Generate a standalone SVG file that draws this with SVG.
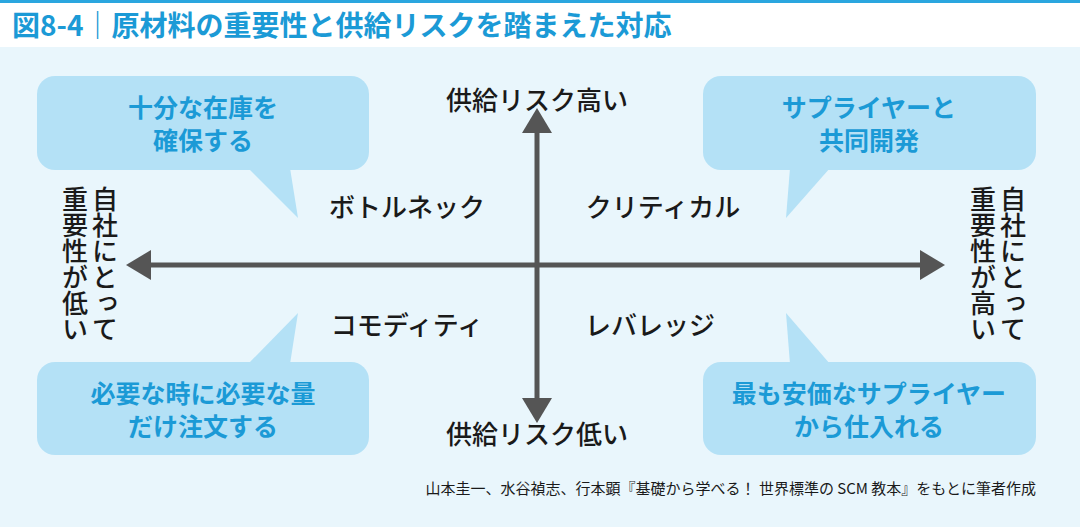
<svg xmlns="http://www.w3.org/2000/svg" width="1080" height="527" viewBox="0 0 1080 527">
<style>
.t{font-family:"Noto Sans CJK JP",sans-serif;fill:#1a1a1a;font-size:26px;font-weight:500;text-anchor:middle}
.c{font-family:"Noto Sans CJK JP",sans-serif;fill:#1b9ad6;font-size:25px;font-weight:bold;text-anchor:middle}
.v{font-family:"Noto Sans CJK JP",sans-serif;fill:#1a1a1a;font-size:26px;font-weight:500;writing-mode:vertical-rl;text-anchor:start}
.b{fill:#b4e1f6}
</style>
<defs><marker id="a" markerWidth="6" markerHeight="6" refX="1" refY="3" orient="auto-start-reverse" markerUnits="strokeWidth"><path d="M0,0L5,3L0,6z" fill="#555"/></marker></defs>
<rect width="1080" height="527" fill="#e9f6fc"/>
<rect width="1080" height="47" fill="#fff"/>
<rect width="1080" height="3" fill="#2aa6df"/>
<text x="12" y="36" font-family="Noto Sans CJK JP,sans-serif" font-size="28" font-weight="bold" fill="#1b9ad6">図8-4｜原材料の重要性と供給リスクを踏まえた対応</text>
<g id="connectors" stroke="#555" stroke-width="5" fill="none">
<line x1="146" y1="265" x2="925" y2="265" marker-start="url(#a)" marker-end="url(#a)"/>
<line x1="537" y1="128" x2="537" y2="403" marker-start="url(#a)" marker-end="url(#a)"/>
</g>
<g id="n1"><rect class="b" x="37" y="76" width="332" height="94" rx="18"/><path class="b" d="M248,168L290,168L298,218z"/><text class="c" x="203" y="117">十分な在庫を</text><text class="c" x="203" y="150">確保する</text></g>
<g id="n2"><rect class="b" x="703" y="76" width="333" height="94" rx="18"/><path class="b" d="M790,168L830,168L786,218z"/><text class="c" x="869" y="117">サプライヤーと</text><text class="c" x="869" y="150">共同開発</text></g>
<g id="n3"><rect class="b" x="37" y="362" width="332" height="93" rx="18"/><path class="b" d="M248,364L290,364L298,313z"/><text class="c" x="203" y="403">必要な時に必要な量</text><text class="c" x="203" y="436">だけ注文する</text></g>
<g id="n4"><rect class="b" x="703" y="362" width="333" height="93" rx="18"/><path class="b" d="M790,364L830,364L786,313z"/><text class="c" x="869" y="403">最も安価なサプライヤー</text><text class="c" x="869" y="436">から仕入れる</text></g>
<g id="labels">
<text class="t" x="537" y="110">供給リスク高い</text>
<text class="t" x="537" y="444">供給リスク低い</text>
<text class="t" x="407" y="217">ボトルネック</text>
<text class="t" x="663" y="217">クリティカル</text>
<text class="t" x="407" y="335">コモディティ</text>
<text class="t" x="650" y="335">レバレッジ</text>
<text class="v" x="105" y="186">自社にとって</text>
<text class="v" x="75" y="186">重要性が低い</text>
<text class="v" x="1013" y="186">自社にとって</text>
<text class="v" x="983" y="186">重要性が高い</text>
</g>
<text x="1036" y="494" text-anchor="end" font-family="Noto Sans CJK JP,sans-serif" font-size="15" fill="#1a1a1a">山本圭一、水谷禎志、行本顕『基礎から学べる！ 世界標準の SCM 教本』をもとに筆者作成</text>
</svg>
